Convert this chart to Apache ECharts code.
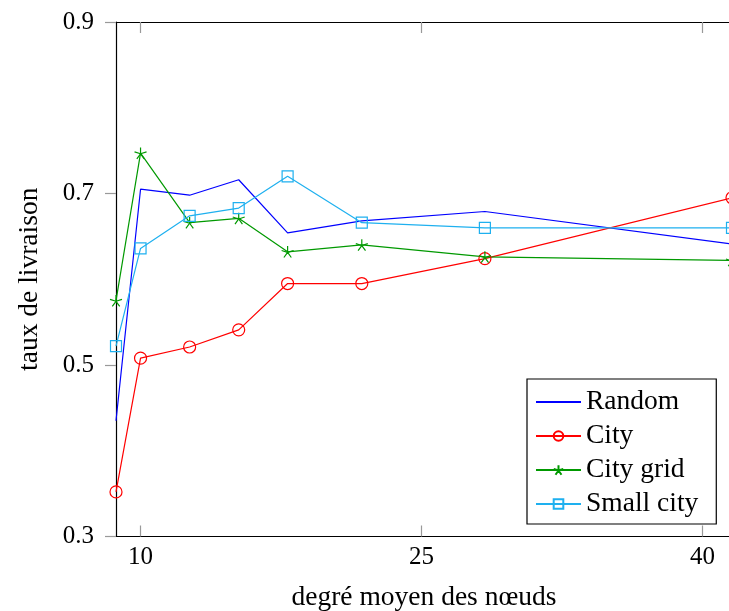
<!DOCTYPE html>
<html>
<head>
<meta charset="utf-8">
<script src="https://cdn.jsdelivr.net/npm/echarts@6/dist/echarts.min.js"></script>
<style>
  html, body { margin: 0; padding: 0; background: #fff; }
  #chart { width: 729px; height: 611px; }
</style>
</head>
<body>
<div id="chart"></div>
<script>
// Mean node degree for each measurement
const degres = [8.69, 10.0, 12.62, 15.24, 17.85, 21.81, 28.38, 41.57];

// Delivery ratio per mobility scenario
const random    = [0.435, 0.705, 0.698, 0.716, 0.654, 0.668, 0.679, 0.641];
const city      = [0.352, 0.508, 0.521, 0.541, 0.595, 0.595, 0.624, 0.695];
const cityGrid  = [0.575, 0.747, 0.666, 0.671, 0.632, 0.640, 0.626, 0.622];
const smallCity = [0.522, 0.636, 0.674, 0.683, 0.720, 0.666, 0.660, 0.660];

// Axis ticks
const xTicks = [10, 25, 40];
const yTicks = [0.3, 0.5, 0.7, 0.9];

const FONT = '"Liberation Serif", "DejaVu Serif", serif';
const TEXT_SIZE = 27.5;
const pair = (ys) => degres.map((x, i) => [x, ys[i]]);

// five-ray asterisk marker, stroked only
const STAR = 'path://M0,0L0,-100M0,0L-95.1,-30.9M0,0L-58.8,80.9M0,0L58.8,80.9M0,0L95.1,-30.9';

function line(name, ys, color, symbol, size) {
  const plain = symbol === 'none';
  return {
    name: name,
    type: 'line',
    data: pair(ys),
    xAxisIndex: 0,
    yAxisIndex: 0,
    symbol: plain ? 'circle' : symbol,
    symbolSize: size,
    symbolKeepAspect: true,
    showSymbol: !plain,
    lineStyle: { color: color, width: 1.2 },
    itemStyle: {
      color: 'rgba(0,0,0,0)',
      borderColor: plain ? 'rgba(0,0,0,0)' : color,
      borderWidth: plain ? 0 : 1.2
    },
    emphasis: { disabled: true },
    animation: false,
    clip: false
  };
}

const chart = echarts.init(document.getElementById('chart'), null, { renderer: 'canvas' });

const xMin = degres[0];
const xMax = degres[degres.length - 1];

chart.setOption({
  backgroundColor: '#fff',
  animation: false,
  grid: {
    left: 116, right: -3, top: 22, bottom: 74.5,
    containLabel: false,
    outerBoundsMode: 'none'
  },
  legend: {
    orient: 'vertical',
    left: 527, top: 379,
    padding: [9, 18, 6, 8],
    itemWidth: 45, itemHeight: 12, itemGap: 6,
    borderColor: '#000', borderWidth: 1.2, backgroundColor: '#fff',
    textStyle: { fontFamily: FONT, fontSize: TEXT_SIZE, color: '#000' },
    data: ['Random', 'City', 'City grid', 'Small city']
  },
  xAxis: [{
    type: 'value', position: 'bottom',
    min: xMin, max: xMax,
    name: 'degré moyen des nœuds',
    nameLocation: 'middle', nameGap: 47,
    nameTextStyle: { fontFamily: FONT, fontSize: TEXT_SIZE, color: '#000' },
    axisLine: { show: true, onZero: false, lineStyle: { color: '#000', width: 1.2 } },
    axisTick: { show: true, inside: true, length: 11, customValues: xTicks, lineStyle: { color: '#999', width: 1.2 } },
    axisLabel: { customValues: xTicks, margin: 8, fontFamily: FONT, fontSize: 25, color: '#000' },
    splitLine: { show: false }
  }, {
    type: 'value', position: 'top',
    min: xMin, max: xMax,
    axisLine: { show: true, onZero: false, lineStyle: { color: '#000', width: 1.2 } },
    axisTick: { show: true, inside: true, length: 11, customValues: xTicks, lineStyle: { color: '#999', width: 1.2 } },
    axisLabel: { show: false },
    splitLine: { show: false }
  }],
  yAxis: {
    type: 'value',
    min: 0.3, max: 0.9, interval: 0.2,
    name: 'taux de livraison',
    nameLocation: 'middle', nameGap: 72,
    nameTextStyle: { fontFamily: FONT, fontSize: TEXT_SIZE, color: '#000' },
    axisLine: { show: true, onZero: false, lineStyle: { color: '#000', width: 1.2 } },
    axisTick: { show: true, inside: false, length: 11, customValues: yTicks, lineStyle: { color: '#999', width: 1.2 } },
    axisLabel: { customValues: yTicks, margin: 22, fontFamily: FONT, fontSize: 25, color: '#000',
                 formatter: (v) => v.toFixed(1) },
    splitLine: { show: false }
  },
  series: [
    line('Random', random, '#0000ff', 'none', 0),
    line('City', city, '#ff0000', 'circle', 12),
    line('City grid', cityGrid, '#009900', STAR, 12),
    line('Small city', smallCity, '#1eb0ef', 'rect', 11)
  ]
});
</script>
</body>
</html>
